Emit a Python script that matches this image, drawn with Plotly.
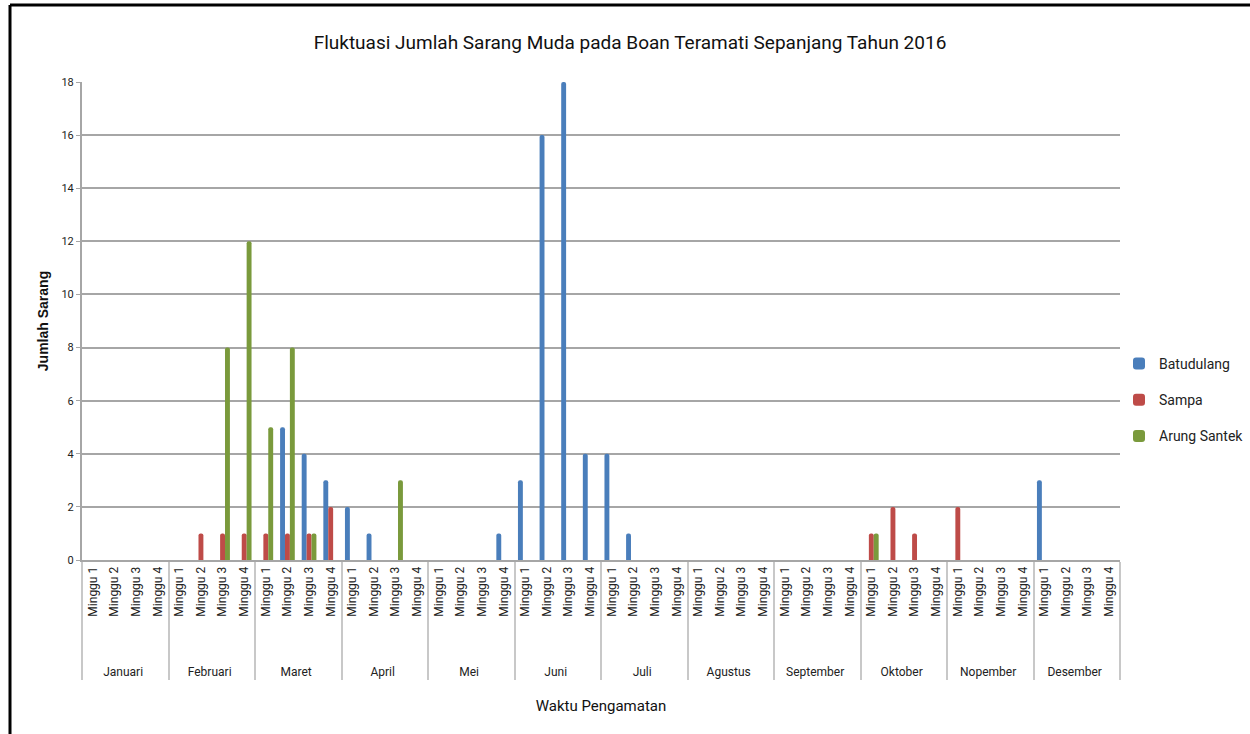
import plotly.graph_objects as go

months = ["Januari", "Februari", "Maret", "April", "Mei", "Juni", "Juli",
          "Agustus", "September", "Oktober", "Nopember", "Desember"]
weeks = ["Minggu 1", "Minggu 2", "Minggu 3", "Minggu 4"]

# values per week (12 months x 4 weeks)
batudulang = [0, 0, 0, 0,  0, 0, 0, 0,  0, 5, 4, 3,  2, 1, 0, 0,
              0, 0, 0, 1,  3, 16, 18, 4,  4, 1, 0, 0,  0, 0, 0, 0,
              0, 0, 0, 0,  0, 0, 0, 0,  0, 0, 0, 0,  3, 0, 0, 0]
sampa = [0, 0, 0, 0,  0, 1, 1, 1,  1, 1, 1, 2,  0, 0, 0, 0,
         0, 0, 0, 0,  0, 0, 0, 0,  0, 0, 0, 0,  0, 0, 0, 0,
         0, 0, 0, 0,  1, 2, 1, 0,  2, 0, 0, 0,  0, 0, 0, 0]
arung_santek = [0, 0, 0, 0,  0, 0, 8, 12,  5, 8, 1, 0,  0, 0, 3, 0,
                0, 0, 0, 0,  0, 0, 0, 0,  0, 0, 0, 0,  0, 0, 0, 0,
                0, 0, 0, 0,  1, 0, 0, 0,  0, 0, 0, 0,  0, 0, 0, 0]

PAD = "\u00a0" * 12  # leading space so the month row sits lower, as in the reference
x_outer = [m for m in months for _ in weeks]
x_inner = [PAD + w for _ in months for w in weeks]

series = [("Batudulang", batudulang, "#4a7ebb"),
          ("Sampa", sampa, "#be4b48"),
          ("Arung Santek", arung_santek, "#7a9a3c")]

fig = go.Figure()
for name, vals, col in series:
    fig.add_trace(go.Bar(
        x=[x_outer, x_inner], y=vals, name=name, legendgroup=name,
        marker=dict(color=col, line=dict(width=0)),
    ))

FONT = "Roboto, Liberation Sans, sans-serif"

L, R, T, B = 82, 130, 82, 174
PW, PH = 1250 - L - R, 734 - T - B

fig.update_layout(
    width=1250, height=734,
    paper_bgcolor="white", plot_bgcolor="white",
    barmode="group", bargap=0.32, bargroupgap=0.0,
    barcornerradius=2,
    margin=dict(l=L, r=R, t=T, b=B, autoexpand=False),
    font=dict(family=FONT, color="#222222", size=12),
    title=dict(text="Fluktuasi Jumlah Sarang Muda pada Boan Teramati Sepanjang Tahun 2016",
               x=630 / 1250, xanchor="center", xref="container",
               y=1 - 42 / 734, yanchor="middle", yref="container",
               font=dict(family=FONT, size=19, color="#111111")),
    legend=dict(x=1119 / 1250, y=1 - 348 / 734, xref="container", yref="container",
                xanchor="left", yanchor="top",
                font=dict(family=FONT, size=14, color="#222222"),
                traceorder="grouped", tracegroupgap=15,
                itemwidth=30, bgcolor="rgba(0,0,0,0)"),
    showlegend=True,
)

fig.update_yaxes(
    range=[0, 18], dtick=2, tick0=0,
    automargin=False,
    showgrid=True, gridcolor="#a6a6a6", gridwidth=2,
    showline=True, linecolor="#a6a6a6", linewidth=2,
    ticks="outside", ticklen=4, tickcolor="#a6a6a6",
    tickfont=dict(family=FONT, size=11, color="#222222"),
    zeroline=False,
    title=dict(text="<b>Jumlah Sarang</b>", standoff=10,
               font=dict(family="Liberation Sans, Arial, sans-serif", size=14, color="#111111")),
)

fig.update_xaxes(
    type="multicategory",
    automargin=False,
    showline=True, linecolor="#a6a6a6", linewidth=2,
    showdividers=True, dividercolor="#c8c8c8", dividerwidth=1.5,
    tickangle=-90,
    tickfont=dict(family=FONT, size=12, color="#222222"),
    title=dict(text="Waktu Pengamatan", standoff=22,
               font=dict(family=FONT, size=15, color="#111111")),
)

# outer frame (left and top edges as in the reference picture)
def px_x(px):
    return (px - L) / PW

def px_y(py):
    return (734 - B - py) / PH

fig.add_shape(type="line", xref="paper", yref="paper",
              x0=px_x(10), x1=px_x(10), y0=px_y(734), y1=px_y(5),
              line=dict(color="black", width=3))
fig.add_shape(type="line", xref="paper", yref="paper",
              x0=px_x(10), x1=px_x(1250), y0=px_y(5), y1=px_y(5),
              line=dict(color="black", width=3))

fig.write_html("out.html", config={"displayModeBar": False},
               post_script="document.body.style.margin='0';")
